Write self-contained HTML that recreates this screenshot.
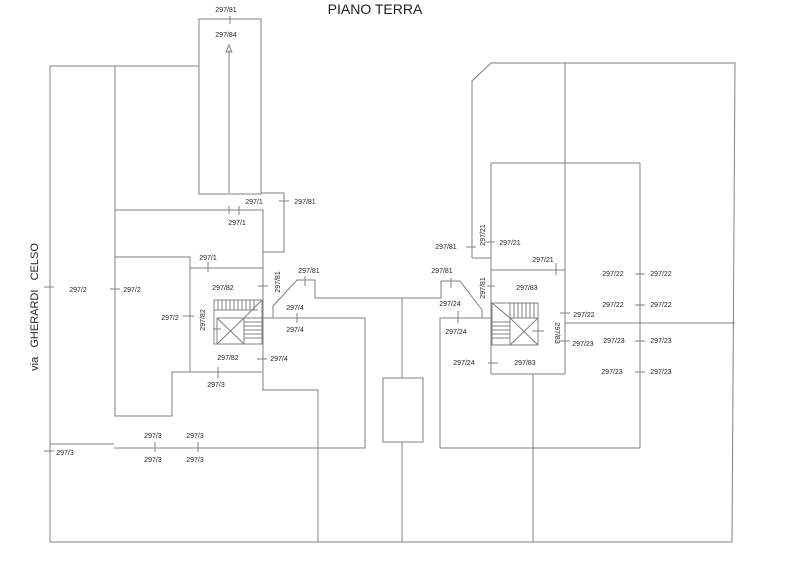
<!DOCTYPE html>
<html><head><meta charset="utf-8"><style>
html,body{margin:0;padding:0;background:#fff}
svg{display:block}
text{font-family:"Liberation Sans",sans-serif;font-size:7px;fill:#222;text-anchor:middle}
</style></head><body>
<svg width="800" height="567" viewBox="0 0 800 567" xmlns="http://www.w3.org/2000/svg">
<g fill="none" stroke="#808080" stroke-width="1">
<rect x="199" y="19" width="62" height="175"/>
<line x1="229" y1="50" x2="229" y2="193"/>
<path d="M226,52 L229,45 L232,52 Z"/>
<polyline points="199,66 50,66 50,542 732,542"/>
<polyline points="115,66 115,416 172,416 172,372 262,372"/>
<polyline points="115,210 263,210 263,390"/>
<polyline points="261,193 284,193 284,252 263,252"/>
<polyline points="115,257 190,257 190,372"/>
<line x1="190" y1="268" x2="263" y2="268"/>
<polyline points="262,318 365,318 365,448 114,448"/>
<line x1="50" y1="444" x2="114" y2="444"/>
<polyline points="262,390 318,390 318,542"/>
<polyline points="273,318 273,306 297,280 315,280 315,298 441,298 441,281 460,281 482,310 482,318"/>
<line x1="402" y1="298" x2="402" y2="378"/>
<rect x="383" y="378" width="40" height="64"/>
<line x1="402" y1="442" x2="402" y2="542"/>
<polyline points="440,448 440,318 492,318"/>
<line x1="440" y1="448" x2="640" y2="448"/>
<polyline points="472,258 472,81 491,63 735,63 732,542"/>
<line x1="472" y1="258" x2="491" y2="258"/>
<line x1="491" y1="163" x2="491" y2="374"/>
<line x1="491" y1="163" x2="640" y2="163"/>
<line x1="640" y1="163" x2="640" y2="448"/>
<line x1="565" y1="63" x2="565" y2="374"/>
<line x1="491" y1="374" x2="565" y2="374"/>
<line x1="491" y1="270" x2="565" y2="270"/>
<line x1="565" y1="323" x2="735" y2="323"/>
<line x1="533" y1="374" x2="533" y2="542"/>
<rect x="214" y="300" width="48" height="44"/>
<line x1="214" y1="310" x2="258" y2="310"/>
<path d="M218,300v10M222,300v10M226,300v10M230,300v10M234,300v10M238,300v10M242,300v10M246,300v10M250,300v10M254,300v10"/>
<rect x="217" y="318" width="27" height="26"/>
<path d="M217,318L244,344M244,318L217,344"/>
<line x1="244" y1="318" x2="262" y2="318"/>
<path d="M244,322h18M244,326h18M244,330h18M244,334h18M244,338h18"/>
<line x1="244" y1="318" x2="262" y2="300"/>
<rect x="492" y="303" width="46" height="42"/>
<line x1="510" y1="318" x2="538" y2="318"/>
<path d="M514,303v15M518,303v15M522,303v15M526,303v15M530,303v15M534,303v15"/>
<line x1="510" y1="303" x2="510" y2="345"/>
<path d="M510,318L538,345M538,318L510,345"/>
<path d="M492,322h18M492,326h18M492,330h18M492,334h18M492,338h18"/>
<line x1="492" y1="303" x2="510" y2="318"/>
<path d="M230,16v8M229,206v8M279,201h10M239,206v9M208,262v10M258,286h10M305,276v10M44,287h10M110,289h10M183,316h11M213,329h8M297,313v10M257,359h10M218,367v11M155,442v10M198,442v10M44,451h10"/>
<path d="M466,247h10M485,242h10M556,263v12M451,278v10M487,286h8M458,311v12M488,363h10M635,274h10M635,305h10M560,313h10M532,331h12M560,341h10M635,341h10M635,372h10"/>
</g>
<text x="375" y="14" style="font-size:14px">PIANO TERRA</text>
<text x="226" y="12">297/81</text>
<text x="226" y="37">297/84</text>
<text x="254" y="204">297/1</text>
<text x="305" y="204">297/81</text>
<text x="237" y="225">297/1</text>
<text x="208" y="260">297/1</text>
<text x="223" y="290">297/82</text>
<text x="309" y="273">297/81</text>
<text transform="translate(280,282) rotate(-90)">297/81</text>
<text x="78" y="292">297/2</text>
<text x="132" y="292">297/2</text>
<text x="170" y="320">297/2</text>
<text transform="translate(205,320) rotate(-90)">297/82</text>
<text x="295" y="310">297/4</text>
<text x="295" y="332">297/4</text>
<text x="228" y="360">297/82</text>
<text x="279" y="361">297/4</text>
<text x="216" y="387">297/3</text>
<text x="153" y="438">297/3</text>
<text x="195" y="438">297/3</text>
<text x="153" y="462">297/3</text>
<text x="195" y="462">297/3</text>
<text x="65" y="455">297/3</text>
<text transform="translate(38,307) rotate(-90)" style="font-size:11px;white-space:pre" xml:space="preserve">via   GHERARDI   CELSO</text>
<text x="446" y="249">297/81</text>
<text transform="translate(485,235) rotate(-90)">297/21</text>
<text x="510" y="245">297/21</text>
<text x="543" y="262">297/21</text>
<text x="442" y="273">297/81</text>
<text transform="translate(485,288) rotate(-90)">297/81</text>
<text x="527" y="290">297/83</text>
<text x="450" y="306">297/24</text>
<text x="456" y="334">297/24</text>
<text x="464" y="365">297/24</text>
<text x="525" y="365">297/83</text>
<text x="613" y="276">297/22</text>
<text x="661" y="276">297/22</text>
<text x="613" y="307">297/22</text>
<text x="661" y="307">297/22</text>
<text x="584" y="317">297/22</text>
<text transform="translate(555,333) rotate(90)">297/83</text>
<text x="583" y="346">297/23</text>
<text x="614" y="343">297/23</text>
<text x="661" y="343">297/23</text>
<text x="612" y="374">297/23</text>
<text x="661" y="374">297/23</text>
</svg>
</body></html>
